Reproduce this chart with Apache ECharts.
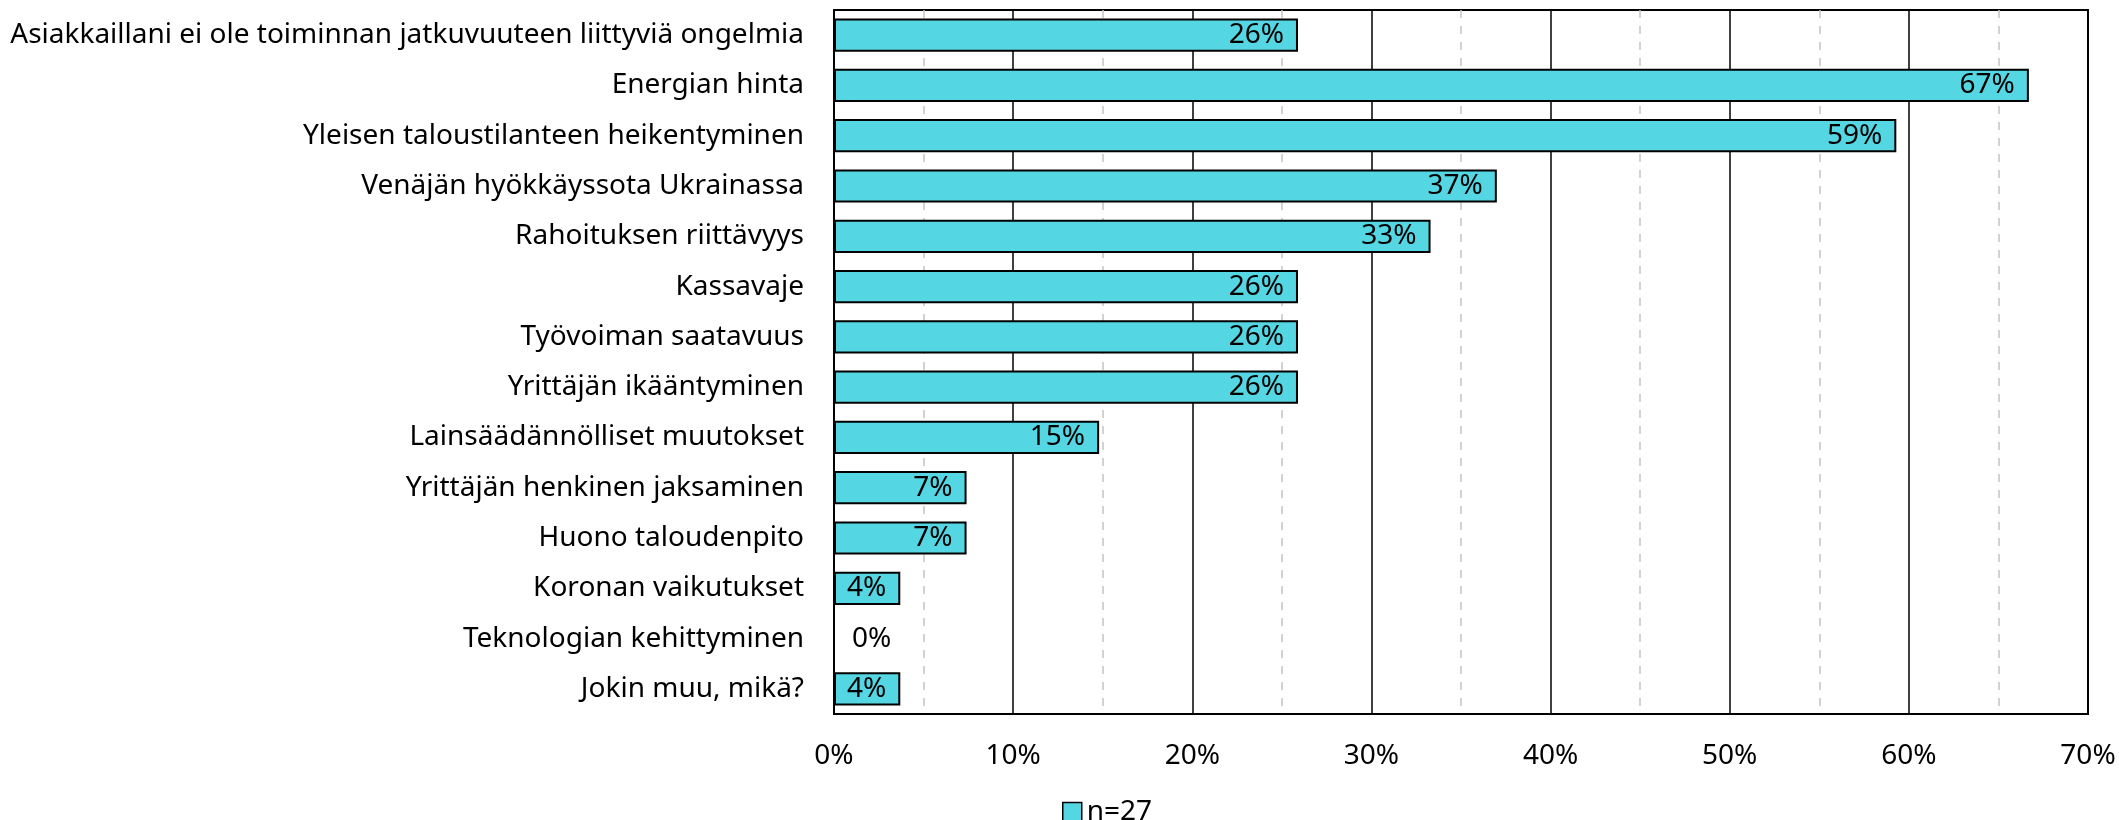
<!DOCTYPE html>
<html><head><meta charset="utf-8">
<script src="https://cdn.jsdelivr.net/npm/echarts@6/dist/echarts.min.js"></script>
<style>html,body{margin:0;padding:0;background:#fff}#c{width:2119px;height:820px}</style>
</head><body><div id="c"></div>
<script>
const categories = [
  "Asiakkaillani ei ole toiminnan jatkuvuuteen liittyviä ongelmia",
  "Energian hinta",
  "Yleisen taloustilanteen heikentyminen",
  "Venäjän hyökkäyssota Ukrainassa",
  "Rahoituksen riittävyys",
  "Kassavaje",
  "Työvoiman saatavuus",
  "Yrittäjän ikääntyminen",
  "Lainsäädännölliset muutokset",
  "Yrittäjän henkinen jaksaminen",
  "Huono taloudenpito",
  "Koronan vaikutukset",
  "Teknologian kehittyminen",
  "Jokin muu, mikä?"
];
const values = [25.9, 66.7, 59.3, 37.0, 33.3, 25.9, 25.9, 25.9, 14.8, 7.4, 7.4, 3.7, 0, 3.7];
const seriesName = "n=27";
const xTicks = [0, 10, 20, 30, 40, 50, 60, 70];

const FONT = "Noto Sans";
const FS = 28;
const chart = echarts.init(document.getElementById('c'), null, {renderer: 'canvas'});
const data = values.map(v => v === 0
  ? {value: v, label: {position: 'right', distance: 17}}
  : v);
chart.setOption({
  animation: false,
  textStyle: {fontFamily: FONT},
  grid: {left: 834, right: 31, top: 10, bottom: 106, show: true, borderColor: '#000', borderWidth: 2},
  legend: {
    data: [{name: seriesName, icon: 'rect'}], left: 1062, top: 798, padding: 0,
    itemWidth: 19, itemHeight: 19, itemGap: 5,
    textStyle: {fontFamily: FONT, fontSize: FS, color: '#000', lineHeight: 20},
    itemStyle: {borderColor: '#000', borderWidth: 1.5}
  },
  xAxis: {
    type: 'value', min: xTicks[0], max: xTicks[xTicks.length - 1], interval: 10,
    axisLine: {show: true, lineStyle: {color: '#000', width: 2}},
    axisTick: {show: false},
    axisLabel: {formatter: '{value}%', fontSize: FS, color: '#000', margin: 28, fontFamily: FONT},
    splitLine: {show: true, lineStyle: {color: '#000', width: 1.5}},
    minorTick: {show: false, splitNumber: 2},
    minorSplitLine: {show: true, lineStyle: {color: '#c4c4c4', width: 1.5, type: [8, 8]}}
  },
  yAxis: {
    type: 'category', data: categories, inverse: true,
    axisLine: {show: true, lineStyle: {color: '#000', width: 2}},
    axisTick: {show: false},
    axisLabel: {fontSize: FS, color: '#000', margin: 30, fontFamily: FONT}
  },
  series: [{
    name: seriesName, type: 'bar', data: data, barWidth: '66%',
    itemStyle: {color: '#55D6E3', borderColor: '#000', borderWidth: 2},
    label: {show: true, position: 'insideRight', distance: 14, color: '#000', fontSize: FS,
      fontFamily: FONT, formatter: p => Math.round(p.value) + '%'}
  }]
});
</script></body></html>
